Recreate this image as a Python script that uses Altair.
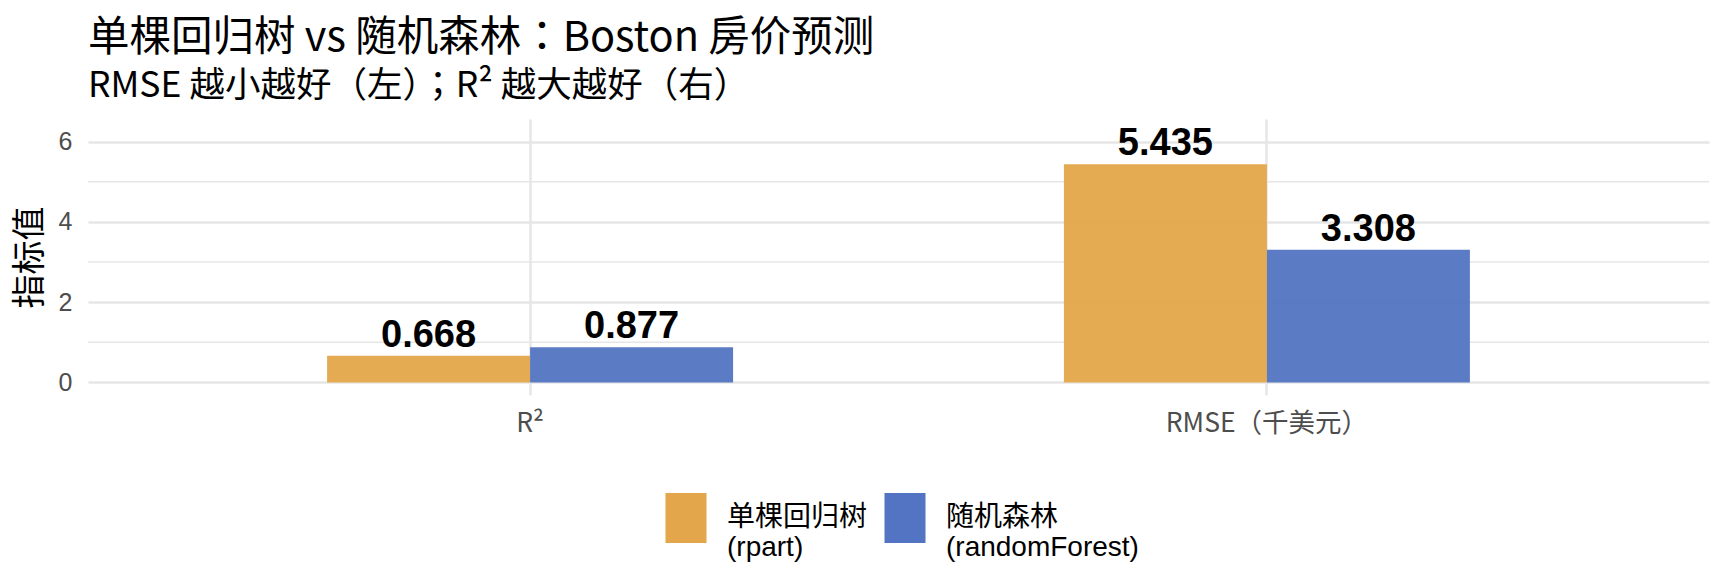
import altair as alt
import pandas as pd

# ---- data ----
metrics = ["R²", "RMSE（千美元）"]
models = ["单棵回归树\n(rpart)", "随机森林\n(randomForest)"]
rpart_values = [0.668, 5.435]
rf_values = [0.877, 3.308]
colors = ["#E3A64A", "#5274C2"]
y_ticks = [0, 2, 4, 6]
y_minor = [1, 3, 5]
y_domain = [-0.3125, 6.5625]

rows = []
for i, m in enumerate(metrics):
    rows.append({"metric": m, "model": models[0], "value": rpart_values[i]})
    rows.append({"metric": m, "model": models[1], "value": rf_values[i]})
df = pd.DataFrame(rows)
minor_df = pd.DataFrame({"v": y_minor})

GRID = "#E6E6E6"
CJK = "Noto Sans CJK TC"
LAT = "Liberation Sans, Noto Sans CJK SC"

x_enc = alt.X(
    "metric:N",
    sort=metrics,
    scale=alt.Scale(paddingInner=0.449, paddingOuter=0.3245),
    axis=alt.Axis(
        title=None, labelAngle=0, labelFont=CJK, labelFontSize=26.5, labelLimit=500,
        labelColor="#4D4D4D", labelPadding=15, ticks=False, domain=False,
        grid=True, gridColor=GRID, gridWidth=2.5, bandPosition=0.5,
    ),
)
xoff_enc = alt.XOffset("model:N", sort=models, scale=alt.Scale(paddingInner=0, paddingOuter=0))
y_scale = alt.Scale(domain=y_domain, nice=False, zero=False)
y_axis = alt.Axis(
    title="指标值", values=y_ticks, grid=True, gridColor=GRID, gridWidth=2.5,
    ticks=False, domain=False, labelFont="Liberation Sans", labelFontSize=25,
    labelColor="#4D4D4D", labelPadding=16,
    titleFont=CJK, titleFontSize=34, titleFontWeight="normal", titleColor="black",
    titleAngle=270, titleX=-58, titleY=138, titleAlign="center", titleBaseline="middle",
)

minor = alt.Chart(minor_df).mark_rule(color=GRID, strokeWidth=1.4).encode(
    y=alt.Y("v:Q", scale=y_scale, axis=y_axis)
)

bars = alt.Chart(df).mark_bar(opacity=0.95).encode(
    x=x_enc,
    xOffset=xoff_enc,
    y=alt.Y("value:Q", scale=y_scale, axis=y_axis),
    color=alt.Color(
        "model:N", sort=models,
        scale=alt.Scale(domain=models, range=colors),
        legend=alt.Legend(
            title=None, orient="none", direction="horizontal", legendX=573, legendY=374,
            symbolType="M-0.82,-1H0.82V1H-0.82Z", symbolSize=2500, symbolStrokeWidth=0,
            symbolOpacity=1,
            labelFont=LAT, labelFontSize=28, labelColor="black", labelLimit=400,
            labelOffset=16, columnPadding=12,
            labelExpr="split(datum.label, '\\n')",
        ),
    ),
)

labels = alt.Chart(df).mark_text(
    font="Liberation Sans", fontSize=38, fontWeight="bold", color="black",
    baseline="alphabetic", dy=-9,
).encode(
    x=alt.X("metric:N", sort=metrics),
    xOffset=alt.XOffset("model:N", sort=models),
    y=alt.Y("value:Q", scale=y_scale),
    text=alt.Text("value:Q", format=".3f"),
)

chart = alt.layer(minor, bars, labels).properties(
    width=1621,
    height=276,
    background="white",
    title=alt.TitleParams(
        text="单棵回归树 vs 随机森林：Boston 房价预测",
        subtitle="RMSE 越小越好（左）；R² 越大越好（右）",
        anchor="start", frame="group", font=CJK, fontSize=41.5, fontWeight="normal",
        color="black", subtitleFont=CJK, subtitleFontSize=35.5, subtitleColor="black",
        subtitlePadding=9, offset=15,
    ),
    autosize=alt.AutoSizeParams(type="none"),
    padding={"left": 80, "top": 111, "right": 11, "bottom": 173},
).configure_view(stroke=None, strokeWidth=0)

chart.save("out.html", embed_options={"renderer": "svg", "actions": False})
